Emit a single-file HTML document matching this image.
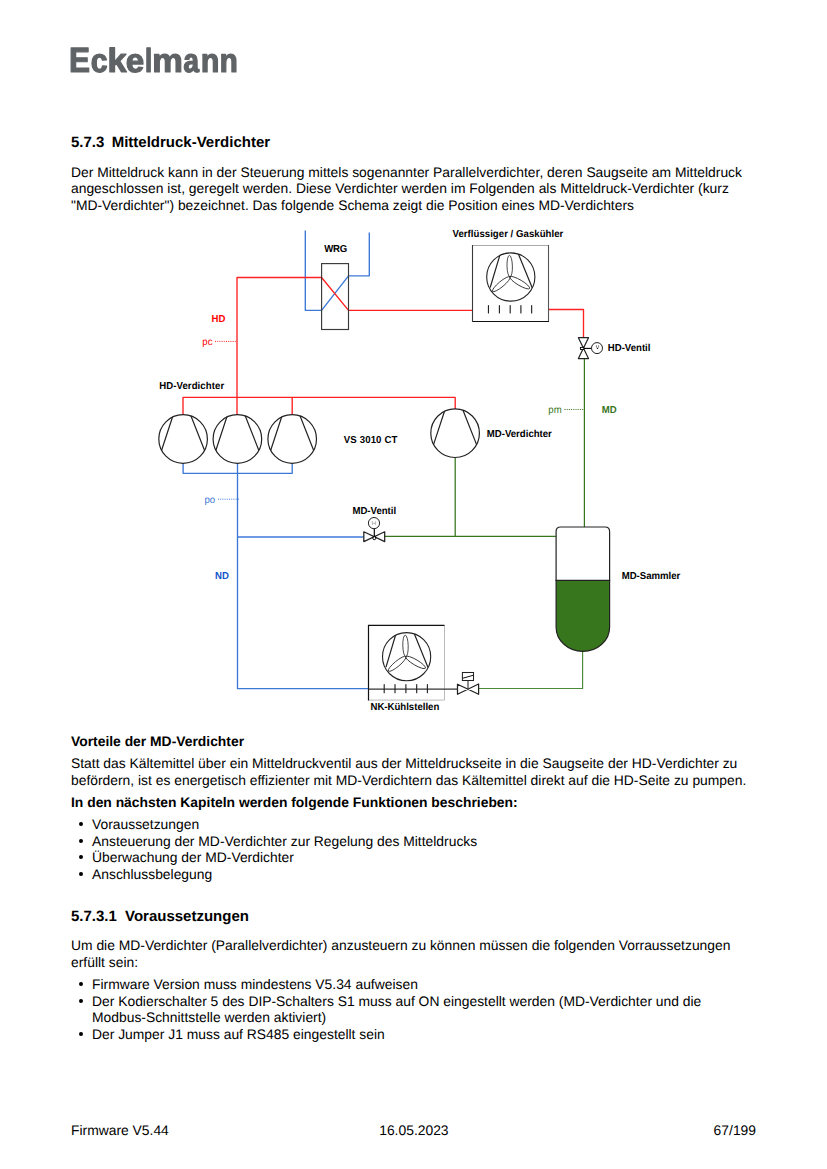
<!DOCTYPE html>
<html><head><meta charset="utf-8"><title>5.7.3 Mitteldruck-Verdichter</title>
<style>
html,body{margin:0;padding:0;background:#fff;}
body{width:827px;height:1169px;position:relative;overflow:hidden;font-family:"Liberation Sans",sans-serif;color:#000;}
.t{position:absolute;white-space:pre;line-height:1;text-rendering:geometricPrecision;}
.b{position:absolute;width:3.8px;height:3.8px;border-radius:50%;background:#000;}
svg{position:absolute;left:0;top:0;}
</style></head><body>
<svg width="827" height="1169" viewBox="0 0 827 1169">
<g fill="#5f6366" stroke="#5f6366" stroke-width="1.2" stroke-linejoin="round"><path vector-effect="non-scaling-stroke" transform="matrix(0.015318 0 0 -0.017033 69.051 71.950)" d="M137 0V1409H1245V1181H432V827H1184V599H432V228H1286V0Z"/><path vector-effect="non-scaling-stroke" transform="matrix(0.014715 0 0 -0.016310 90.773 72.024)" d="M594 -20Q348 -20 214.0 126.5Q80 273 80 535Q80 803 215.0 952.5Q350 1102 598 1102Q789 1102 914.0 1006.0Q1039 910 1071 741L788 727Q776 810 728.0 859.5Q680 909 592 909Q375 909 375 546Q375 172 596 172Q676 172 730.0 222.5Q784 273 797 373L1079 360Q1064 249 999.5 162.0Q935 75 830.0 27.5Q725 -20 594 -20Z"/><path vector-effect="non-scaling-stroke" transform="matrix(0.016834 0 0 -0.016442 107.443 71.950)" d="M834 0 545 490 424 406V0H143V1484H424V634L810 1082H1112L732 660L1141 0Z"/><path vector-effect="non-scaling-stroke" transform="matrix(0.016178 0 0 -0.016310 125.756 72.024)" d="M586 -20Q342 -20 211.0 124.5Q80 269 80 546Q80 814 213.0 958.0Q346 1102 590 1102Q823 1102 946.0 947.5Q1069 793 1069 495V487H375Q375 329 433.5 248.5Q492 168 600 168Q749 168 788 297L1053 274Q938 -20 586 -20ZM586 925Q487 925 433.5 856.0Q380 787 377 663H797Q789 794 734.0 859.5Q679 925 586 925Z"/><path vector-effect="non-scaling-stroke" transform="matrix(0.012100 0 0 -0.016307 145.120 71.950)" d="M143 0V1484H424V0Z"/><path vector-effect="non-scaling-stroke" transform="matrix(0.016870 0 0 -0.016228 152.173 71.950)" d="M780 0V607Q780 892 616 892Q531 892 477.5 805.0Q424 718 424 580V0H143V840Q143 927 140.5 982.5Q138 1038 135 1082H403Q406 1063 411.0 980.5Q416 898 416 867H420Q472 991 549.5 1047.0Q627 1103 735 1103Q983 1103 1036 867H1042Q1097 993 1174.0 1048.0Q1251 1103 1370 1103Q1528 1103 1611.0 995.5Q1694 888 1694 687V0H1415V607Q1415 892 1251 892Q1169 892 1116.5 812.5Q1064 733 1059 593V0Z"/><path vector-effect="non-scaling-stroke" transform="matrix(0.013645 0 0 -0.016310 183.431 72.024)" d="M393 -20Q236 -20 148.0 65.5Q60 151 60 306Q60 474 169.5 562.0Q279 650 487 652L720 656V711Q720 817 683.0 868.5Q646 920 562 920Q484 920 447.5 884.5Q411 849 402 767L109 781Q136 939 253.5 1020.5Q371 1102 574 1102Q779 1102 890.0 1001.0Q1001 900 1001 714V320Q1001 229 1021.5 194.5Q1042 160 1090 160Q1122 160 1152 166V14Q1127 8 1107.0 3.0Q1087 -2 1067.0 -5.0Q1047 -8 1024.5 -10.0Q1002 -12 972 -12Q866 -12 815.5 40.0Q765 92 755 193H749Q631 -20 393 -20ZM720 501 576 499Q478 495 437.0 477.5Q396 460 374.5 424.0Q353 388 353 328Q353 251 388.5 213.5Q424 176 483 176Q549 176 603.5 212.0Q658 248 689.0 311.5Q720 375 720 446Z"/><path vector-effect="non-scaling-stroke" transform="matrix(0.014762 0 0 -0.016228 200.857 71.950)" d="M844 0V607Q844 892 651 892Q549 892 486.5 804.5Q424 717 424 580V0H143V840Q143 927 140.5 982.5Q138 1038 135 1082H403Q406 1063 411.0 980.5Q416 898 416 867H420Q477 991 563.0 1047.0Q649 1103 768 1103Q940 1103 1032.0 997.0Q1124 891 1124 687V0Z"/><path vector-effect="non-scaling-stroke" transform="matrix(0.014459 0 0 -0.016228 219.698 71.950)" d="M844 0V607Q844 892 651 892Q549 892 486.5 804.5Q424 717 424 580V0H143V840Q143 927 140.5 982.5Q138 1038 135 1082H403Q406 1063 411.0 980.5Q416 898 416 867H420Q477 991 563.0 1047.0Q649 1103 768 1103Q940 1103 1032.0 997.0Q1124 891 1124 687V0Z"/></g>
<g fill="none" stroke-width="1.35" stroke-linejoin="round">
<path d="M305.3 230.5 V310.3 H321.6 L348.5 275.8 H369.3 V232.5" stroke="#3c78d8"/>
<path d="M237.0 397.4 V277.5 H321.6 L348.5 310.4 H472.5" stroke="#ff2020"/>
<path d="M548.5 309.5 H583.5 V337.7" stroke="#ff2020"/>
<path d="M183.0 414.6 V397.4 H455.2 V409" stroke="#ff2020"/>
<path d="M237.0 397.4 V414.6 M292.2 397.4 V414" stroke="#ff2020"/>
<path d="M183.1 463.4 V473.3 H292.2 V462.6 M237.5 463.4 V688.6 H368.5" stroke="#3c78d8"/>
<path d="M237.5 536.95 H363.8" stroke="#3c78d8"/>
<path d="M584.4 358.6 V527" stroke="#38761d" stroke-width="1.25"/>
<path d="M384.7 536.3 H556 M455.2 457.4 V536.3" stroke="#38761d" stroke-width="1.25"/>
<path d="M582.6 651.5 V688.5 H478.6" stroke="#4a8a38" stroke-width="1.15"/>
</g>
<path d="M215 341.4 H237" stroke="#ff2020" stroke-width="1" stroke-dasharray="1 1.2"/>
<path d="M218 499.2 H240" stroke="#3c78d8" stroke-width="1" stroke-dasharray="1 1.2"/>
<path d="M564.5 409.5 H584" stroke="#38761d" stroke-width="1" stroke-dasharray="1 1.2"/>
<rect x="321.6" y="263.6" width="26.9" height="65.9" fill="none" stroke="#3a3a3a" stroke-width="1.15"/>
<rect x="472.5" y="245.5" width="76" height="76" fill="#fff" stroke="none"/>
<path d="M472.5 245.5 H548.5" stroke="#aaa" stroke-width="1.1"/>
<path d="M548.5 245 V322" stroke="#555" stroke-width="1.1"/>
<path d="M472 321.5 H549" stroke="#111" stroke-width="1.2"/>
<path d="M472.5 245 V322" stroke="#3a3a3a" stroke-width="1.1"/>
<circle cx="510.8" cy="277.0" r="24.1" fill="#fff" stroke="#222" stroke-width="1.1"/><path d="M499.80 255.30 L490.20 287.50 M518.60 254.40 L532.20 287.70" stroke="#222" stroke-width="1.2" fill="none"/><g fill="none" stroke="#222" stroke-width="0.8"><ellipse cx="509.70" cy="266.15" rx="10.75" ry="2.7" transform="rotate(-91.6 509.70 266.15)"/><ellipse cx="501.30" cy="284.15" rx="11.32" ry="2.7" transform="rotate(140.2 501.30 284.15)"/><ellipse cx="519.80" cy="282.70" rx="11.39" ry="2.7" transform="rotate(30.6 519.80 282.70)"/></g>
<path d="M488.45 305.6 V313 M499.4 305.6 V313 M510.2 305.6 V313 M520.9 305.6 V313 M531.65 305.6 V313" stroke="#222" stroke-width="1.15" stroke-linecap="round"/>
<circle cx="183.1" cy="439.0" r="24.3" fill="#fff" stroke="#222" stroke-width="1.2"/><path d="M172.60 416.80 L161.60 450.20 M190.90 415.80 L204.50 450.20" stroke="#222" stroke-width="1.2" fill="none"/>
<circle cx="237.4" cy="439.0" r="24.3" fill="#fff" stroke="#222" stroke-width="1.2"/><path d="M226.90 416.80 L215.90 450.20 M245.20 415.80 L258.80 450.20" stroke="#222" stroke-width="1.2" fill="none"/>
<circle cx="292.2" cy="439.0" r="24.3" fill="#fff" stroke="#222" stroke-width="1.2"/><path d="M281.70 416.80 L270.70 450.20 M300.00 415.80 L313.60 450.20" stroke="#222" stroke-width="1.2" fill="none"/>
<circle cx="455.1" cy="433.2" r="24.3" fill="#fff" stroke="#222" stroke-width="1.2"/><path d="M444.60 411.00 L433.60 444.40 M462.90 410.00 L476.50 444.40" stroke="#222" stroke-width="1.2" fill="none"/>
<path d="M578.4 337.7 H588.5 L578.4 358.6 H588.5 Z" fill="#fff" stroke="#222" stroke-width="1.2" stroke-linejoin="round"/>
<path d="M583.5 348.4 H591.4" stroke="#000" stroke-width="1.1"/>
<rect x="580.4" y="347.4" width="3.4" height="2.1" fill="#fff" stroke="#000" stroke-width="0.9"/>
<circle cx="597" cy="348.1" r="5.5" fill="#fff" stroke="#222" stroke-width="1"/>
<path d="M596.4 345.2 V347.3 Q597.5 349.2 598.6 347.3 V345.2" fill="none" stroke="#555" stroke-width="0.7"/><circle cx="597.5" cy="348.4" r="0.7" fill="#111"/>
<path d="M363.8 531.8 V541.6 L384.7 531.8 V541.6 Z" fill="#fff" stroke="#222" stroke-width="1.25" stroke-linejoin="round"/>
<path d="M374.3 536.9 V528.8" stroke="#000" stroke-width="1.15"/>
<circle cx="374.0" cy="523.1" r="5.6" fill="#fff" stroke="#222" stroke-width="1"/>
<path d="M372.4 521.2 V524.6 L374 522.8 L375.6 524.6 V521.2" fill="none" stroke="#888" stroke-width="0.6"/>
<circle cx="374.3" cy="538.2" r="1.5" fill="#fff" stroke="#000" stroke-width="1"/>
<path d="M556.1 580.4 V627.2 A26.75 24.2 0 0 0 609.6 627.2 V580.4 Z" fill="#38761d" stroke="#222" stroke-width="1.2"/>
<path d="M556.1 580.4 V531.5 Q556.1 527 560.6 527 H605.1 Q609.6 527 609.6 531.5 V580.4 Z" fill="#fff" stroke="#222" stroke-width="1.2"/>
<rect x="368.5" y="625.4" width="76" height="74.7" fill="#fff" stroke="none"/>
<path d="M444.5 625.4 V700.1 H368.5" fill="none" stroke="#bbb" stroke-width="1"/>
<path d="M368.5 700.6 V625.4 H444.5" fill="none" stroke="#111" stroke-width="1.2"/>
<circle cx="406.6" cy="656.7" r="24.1" fill="#fff" stroke="#222" stroke-width="1.1"/><path d="M395.60 635.00 L386.00 667.20 M414.40 634.10 L428.00 667.40" stroke="#222" stroke-width="1.2" fill="none"/><g fill="none" stroke="#222" stroke-width="0.8"><ellipse cx="405.50" cy="645.85" rx="10.75" ry="2.7" transform="rotate(-91.6 405.50 645.85)"/><ellipse cx="397.10" cy="663.85" rx="11.32" ry="2.7" transform="rotate(140.2 397.10 663.85)"/><ellipse cx="415.60" cy="662.40" rx="11.39" ry="2.7" transform="rotate(30.6 415.60 662.40)"/></g>
<path d="M368.5 689.15 H457.5" stroke="#333" stroke-width="1.2"/>
<path d="M384.2 684.5 V692.7 M395 684.5 V692.7 M405.9 684.5 V692.7 M416.7 684.5 V692.7 M427.4 684.5 V692.7" stroke="#222" stroke-width="1.15" stroke-linecap="round"/>
<path d="M457.5 684.2 V694.3 L478.6 684.0 V694.3 Z" fill="#fff" stroke="#222" stroke-width="1.25" stroke-linejoin="round"/>
<path d="M468.0 689.2 V680.5" stroke="#555" stroke-width="1.3"/>
<rect x="462.4" y="672.5" width="11.1" height="8" fill="#fff" stroke="#222" stroke-width="1.05"/>
<path d="M462.6 678.3 L473.1 675.3" stroke="#111" stroke-width="1"/>
<g font-family="Liberation Sans" text-rendering="geometricPrecision">
<text transform="translate(335.6 252.1) scale(1 1.05)" font-size="9.6" font-weight="700" fill="#000" text-anchor="middle" letter-spacing="-0.3">WRG</text>
<text transform="translate(452.5 237.0) scale(1 1.05)" font-size="9.6" font-weight="700" fill="#000" text-anchor="start" letter-spacing="0.04">Verflüssiger / Gaskühler</text>
<text transform="translate(607.8 350.8) scale(1 1.05)" font-size="9.6" font-weight="700" fill="#000" text-anchor="start">HD-Ventil</text>
<text transform="translate(211.5 321.8) scale(1 1.05)" font-size="9.6" font-weight="700" fill="#ff0000" text-anchor="start">HD</text>
<text transform="translate(202.3 344.9) scale(1 1.05)" font-size="9.6" font-weight="400" fill="#ff0000" text-anchor="start">pc</text>
<text transform="translate(159.2 389.1) scale(1 1.05)" font-size="9.6" font-weight="700" fill="#000" text-anchor="start" letter-spacing="0.08">HD-Verdichter</text>
<text transform="translate(343.8 442.8) scale(1 1.05)" font-size="9.6" font-weight="700" fill="#000" text-anchor="start" letter-spacing="0.14">VS 3010 CT</text>
<text transform="translate(486.8 436.8) scale(1 1.05)" font-size="9.6" font-weight="700" fill="#000" text-anchor="start">MD-Verdichter</text>
<text transform="translate(548.3 413.1) scale(1 1.05)" font-size="9.6" font-weight="400" fill="#38761d" text-anchor="start">pm</text>
<text transform="translate(601.8 413.1) scale(1 1.05)" font-size="9.6" font-weight="700" fill="#38761d" text-anchor="start">MD</text>
<text transform="translate(204.4 502.5) scale(1 1.05)" font-size="9.6" font-weight="400" fill="#3c78d8" text-anchor="start">po</text>
<text transform="translate(352.4 513.9) scale(1 1.05)" font-size="9.6" font-weight="700" fill="#000" text-anchor="start">MD-Ventil</text>
<text transform="translate(215.1 578.8) scale(1 1.05)" font-size="9.6" font-weight="700" fill="#1155cc" text-anchor="start">ND</text>
<text transform="translate(621.7 578.8) scale(1 1.05)" font-size="9.6" font-weight="700" fill="#000" text-anchor="start">MD-Sammler</text>
<text transform="translate(370.5 709.8) scale(1 1.05)" font-size="9.6" font-weight="700" fill="#000" text-anchor="start">NK-Kühlstellen</text>
</g>
</svg>
<div class="t" style="left:71.00px;top:135.00px;font-size:15px;font-weight:700;">5.7.3</div>
<div class="t" style="left:111.70px;top:135.00px;font-size:15px;font-weight:700;">Mitteldruck-Verdichter</div>
<div class="t" style="left:71.00px;top:166.00px;font-size:13.87px;">Der Mitteldruck kann in der Steuerung mittels sogenannter Parallelverdichter, deren Saugseite am Mitteldruck</div>
<div class="t" style="left:71.00px;top:182.00px;font-size:13.87px;">angeschlossen ist, geregelt werden. Diese Verdichter werden im Folgenden als Mitteldruck-Verdichter (kurz</div>
<div class="t" style="left:71.00px;top:199.00px;font-size:13.87px;">"MD-Verdichter") bezeichnet. Das folgende Schema zeigt die Position eines MD-Verdichters</div>
<div class="t" style="left:71.00px;top:735.00px;font-size:13.87px;font-weight:700;">Vorteile der MD-Verdichter</div>
<div class="t" style="left:71.00px;top:757.00px;font-size:13.87px;">Statt das Kältemittel über ein Mitteldruckventil aus der Mitteldruckseite in die Saugseite der HD-Verdichter zu</div>
<div class="t" style="left:71.00px;top:774.00px;font-size:13.87px;">befördern, ist es energetisch effizienter mit MD-Verdichtern das Kältemittel direkt auf die HD-Seite zu pumpen.</div>
<div class="t" style="left:71.00px;top:796.00px;font-size:13.87px;font-weight:700;">In den nächsten Kapiteln werden folgende Funktionen beschrieben:</div>
<div class="b" style="left:79.1px;top:822.30px"></div>
<div class="t" style="left:92.00px;top:818.00px;font-size:13.87px;">Voraussetzungen</div>
<div class="b" style="left:79.1px;top:839.30px"></div>
<div class="t" style="left:92.00px;top:835.00px;font-size:13.87px;">Ansteuerung der MD-Verdichter zur Regelung des Mitteldrucks</div>
<div class="b" style="left:79.1px;top:855.30px"></div>
<div class="t" style="left:92.00px;top:851.00px;font-size:13.87px;">Überwachung der MD-Verdichter</div>
<div class="b" style="left:79.1px;top:872.30px"></div>
<div class="t" style="left:92.00px;top:868.00px;font-size:13.87px;">Anschlussbelegung</div>
<div class="t" style="left:71.00px;top:909.00px;font-size:15px;font-weight:700;">5.7.3.1</div>
<div class="t" style="left:125.00px;top:909.00px;font-size:15px;font-weight:700;">Voraussetzungen</div>
<div class="t" style="left:71.00px;top:939.00px;font-size:13.87px;">Um die MD-Verdichter (Parallelverdichter) anzusteuern zu können müssen die folgenden Vorraussetzungen</div>
<div class="t" style="left:71.00px;top:956.00px;font-size:13.87px;">erfüllt sein:</div>
<div class="b" style="left:79.1px;top:982.30px"></div>
<div class="t" style="left:92.00px;top:978.00px;font-size:13.87px;">Firmware Version muss mindestens V5.34 aufweisen</div>
<div class="b" style="left:79.1px;top:999.30px"></div>
<div class="t" style="left:92.00px;top:995.00px;font-size:13.87px;">Der Kodierschalter 5 des DIP-Schalters S1 muss auf ON eingestellt werden (MD-Verdichter und die</div>
<div class="t" style="left:92.00px;top:1011.00px;font-size:13.87px;">Modbus-Schnittstelle werden aktiviert)</div>
<div class="b" style="left:79.1px;top:1032.30px"></div>
<div class="t" style="left:92.00px;top:1028.00px;font-size:13.87px;">Der Jumper J1 muss auf RS485 eingestellt sein</div>
<div class="t" style="left:71.00px;top:1124.00px;font-size:13.87px;">Firmware V5.44</div>
<div class="t" style="left:413.90px;transform:translateX(-50%);top:1124.00px;font-size:13.87px;">16.05.2023</div>
<div class="t" style="right:71.00px;top:1124.00px;font-size:13.87px;">67/199</div>
</body></html>
